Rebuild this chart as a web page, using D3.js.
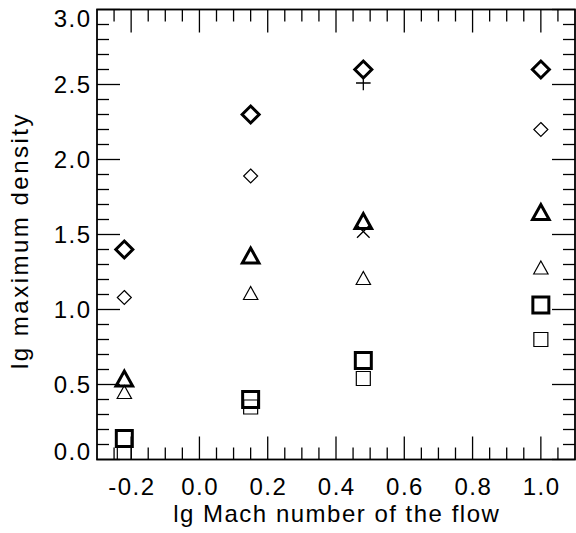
<!DOCTYPE html>
<html>
<head>
<meta charset="utf-8">
<script src="https://cdn.jsdelivr.net/npm/d3@7"></script>
<style>
  body { margin: 0; background: #fff; }
  text { font-family: "Liberation Sans", Arial, sans-serif; fill: #000; }
</style>
</head>
<body>
<div id="chart"></div>
<script>
// lg Mach number of the flow for each run
const machX = [-0.22, 0.15, 0.48, 1.0];

// lg maximum density, one array per marker series
const thickDiamond = [1.40, 2.30, 2.60, 2.60];
const thinDiamond = [1.08, 1.89, null, 2.20];
const thickTriangle = [0.54, 1.36, 1.59, 1.65];
const thinTriangle = [0.45, 1.11, 1.21, 1.28];
const thickSquare = [0.14, 0.40, 0.66, 1.03];
const thinSquare = [0.04, 0.35, 0.54, 0.80];
const plusPts = [null, null, 2.51, null];
const crossPts = [null, null, 1.52, null];

const xTicks = [-0.2, 0.0, 0.2, 0.4, 0.6, 0.8, 1.0];
const yTicks = [0.0, 0.5, 1.0, 1.5, 2.0, 2.5, 3.0];

let width = 576;
let height = 533;
let margin = {left: 97, right: 1, top: 9.5, bottom: 73.5};

let svg = d3.select("#chart").append("svg")
    .attr("width", width)
    .attr("height", height);

let xScale = d3.scaleLinear()
    .domain([-0.3, 1.1])
    .range([margin.left, width - margin.right]);
let yScale = d3.scaleLinear()
    .domain([0, 3])
    .range([height - margin.bottom, margin.top]);

let [x0, x1] = xScale.range();
let [y0, y1] = yScale.range();

// clip for the symbols
svg.append("clipPath").attr("id", "plotclip")
    .append("rect")
    .attr("x", x0).attr("y", y1)
    .attr("width", x1 - x0).attr("height", y0 - y1);

// ticks on all four sides, pointing inward
const majorLen = 23, minorLen = 12;
let xMinor = d3.range(-0.25, 1.1, 0.05).filter(v => Math.abs(v * 5 - Math.round(v * 5)) > 1e-6);
let yMinor = d3.range(0.1, 3.0, 0.1).filter(v => Math.abs(v * 2 - Math.round(v * 2)) > 1e-6);

let g = svg.append("g").attr("stroke", "#000").attr("stroke-width", 1.3);

xTicks.forEach(v => {
    g.append("line").attr("x1", xScale(v)).attr("x2", xScale(v)).attr("y1", y0).attr("y2", y0 - majorLen);
    g.append("line").attr("x1", xScale(v)).attr("x2", xScale(v)).attr("y1", y1).attr("y2", y1 + majorLen);
});
xMinor.forEach(v => {
    g.append("line").attr("x1", xScale(v)).attr("x2", xScale(v)).attr("y1", y0).attr("y2", y0 - minorLen);
    g.append("line").attr("x1", xScale(v)).attr("x2", xScale(v)).attr("y1", y1).attr("y2", y1 + minorLen);
});
yTicks.forEach(v => {
    g.append("line").attr("y1", yScale(v)).attr("y2", yScale(v)).attr("x1", x0).attr("x2", x0 + majorLen);
    g.append("line").attr("y1", yScale(v)).attr("y2", yScale(v)).attr("x1", x1).attr("x2", x1 - majorLen);
});
yMinor.forEach(v => {
    g.append("line").attr("y1", yScale(v)).attr("y2", yScale(v)).attr("x1", x0).attr("x2", x0 + minorLen);
    g.append("line").attr("y1", yScale(v)).attr("y2", yScale(v)).attr("x1", x1).attr("x2", x1 - minorLen);
});

// frame
svg.append("rect")
    .attr("x", x0).attr("y", y1)
    .attr("width", x1 - x0).attr("height", y0 - y1)
    .attr("fill", "none").attr("stroke", "#000").attr("stroke-width", 1.8);

// tick labels
const fs = 24, ls = 1.5;
svg.selectAll(".xlab").data(xTicks).enter().append("text")
    .attr("x", d => xScale(d) + ls / 2)
    .attr("y", y0 + 35.5)
    .attr("text-anchor", "middle")
    .style("font-size", fs + "px")
    .style("letter-spacing", ls + "px")
    .text(d => d3.format(".1f")(d).replace("−", "-"));

// end labels sit inside the axis span, the others are centred on their tick
svg.selectAll(".ylab").data(yTicks).enter().append("text")
    .attr("x", x0 - 7 + ls)
    .attr("y", d => d == 0 ? y0 + 0.5 : d == 3 ? y1 + 17 : yScale(d) + 8.5)
    .attr("text-anchor", "end")
    .style("font-size", fs + "px")
    .style("letter-spacing", ls + "px")
    .text(d => d3.format(".1f")(d));

// axis titles
svg.append("text")
    .attr("x", (x0 + x1) / 2 + ls / 2)
    .attr("y", height - 11)
    .attr("text-anchor", "middle")
    .style("font-size", fs + "px")
    .style("letter-spacing", ls + "px")
    .text("lg Mach number of the flow");

svg.append("text")
    .attr("transform", `translate(28,${(y0 + y1) / 2 + 6}) rotate(-90)`)
    .attr("text-anchor", "middle")
    .style("font-size", fs + "px")
    .style("letter-spacing", "2.5px")
    .text("lg maximum density");

// symbols
function symbolPath(kind, s) {
    if (kind == "diamond") return `M0,${-s}L${s},0L0,${s}L${-s},0Z`;
    if (kind == "triangle") return `M${-s},${s * 0.9}L0,${-s * 0.9}L${s},${s * 0.9}Z`;
    if (kind == "square") return `M${-s},${-s}H${s}V${s}H${-s}Z`;
    if (kind == "plus") return `M${-s},0H${s}M0,${-s}V${s}`;
    if (kind == "cross") return `M${-s},${-s}L${s},${s}M${-s},${s}L${s},${-s}`;
}

let series = [
    {vals: thinDiamond, kind: "diamond", size: 7, sw: 1.2},
    {vals: thinTriangle, kind: "triangle", size: 7.2, sw: 1.2},
    {vals: thinSquare, kind: "square", size: 7, sw: 1.2},
    {vals: plusPts, kind: "plus", size: 7.3, sw: 1.3},
    {vals: crossPts, kind: "cross", size: 6.3, sw: 1.3},
    {vals: thickDiamond, kind: "diamond", size: 8.5, sw: 3},
    {vals: thickTriangle, kind: "triangle", size: 8.3, sw: 3},
    {vals: thickSquare, kind: "square", size: 8, sw: 3}
];

let marks = svg.append("g").attr("clip-path", "url(#plotclip)");
series.forEach(s => {
    let pts = machX.map((x, i) => [x, s.vals[i]]).filter(d => d[1] != null);
    marks.selectAll(null).data(pts).enter().append("path")
        .attr("d", symbolPath(s.kind, s.size))
        .attr("transform", d => `translate(${xScale(d[0])},${yScale(d[1])})`)
        .attr("fill", "none")
        .attr("stroke", "#000")
        .attr("stroke-width", s.sw)
        .attr("stroke-linejoin", "miter");
});
</script>
</body>
</html>
